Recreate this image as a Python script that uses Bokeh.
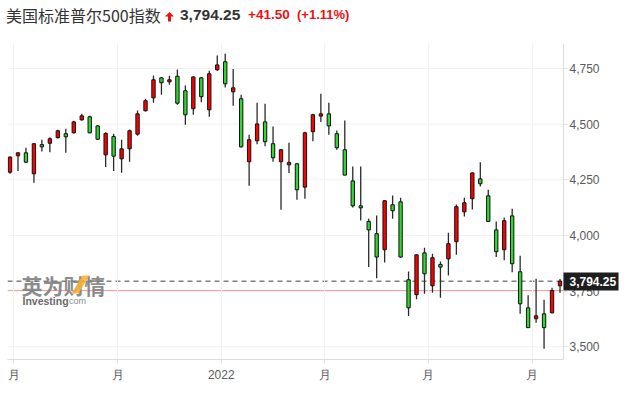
import numpy as np
from bokeh.plotting import figure
from bokeh.layouts import column
from bokeh.models import (ColumnDataSource, Range1d, FixedTicker, NumeralTickFormatter,
                          Label, PolyAnnotation, LinearAxis, Div)
from bokeh.embed import file_html
from bokeh.resources import INLINE

# ---------------- data ----------------
title_text = "美国标准普尔500指数"
last_price_text = "3,794.25"
change_text = "+41.50"
change_pct_text = "(+1.11%)"

opens = [4284, 4358, 4371, 4277, 4408, 4414, 4439, 4457, 4461, 4519,
         4533, 4492, 4362, 4444, 4344, 4389, 4455, 4560, 4618, 4708,
         4690, 4715, 4650, 4569, 4708, 4564, 4744, 4780, 4645, 4614,
         4331, 4425, 4510, 4412, 4331, 4317, 4322, 4217, 4466, 4536,
         4546, 4457, 4385, 4245, 4133, 4063, 4008, 3936, 4138, 4151,
         3801, 3734, 3922, 3774, 3870, 3895, 3972, 4106, 4165, 4254,
         4178, 4025, 3936, 4088, 3837, 3675, 3626, 3648, 3653, 3774]
highs = [4355, 4374, 4394, 4414, 4430, 4441, 4475, 4479, 4515, 4546,
         4537, 4495, 4464, 4457, 4430, 4476, 4561, 4614, 4718, 4712,
         4717, 4745, 4673, 4714, 4712, 4740, 4808, 4816, 4748, 4632,
         4452, 4596, 4591, 4489, 4388, 4416, 4325, 4466, 4546, 4636,
         4596, 4471, 4516, 4310, 4310, 4075, 4090, 4158, 4180, 4169,
         3838, 3915, 3945, 3918, 3883, 4012, 4139, 4169, 4283, 4329,
         4205, 4063, 4081, 4120, 3909, 3732, 3806, 3711, 3765, 3805]
lows = [4277, 4289, 4325, 4237, 4377, 4374, 4435, 4371, 4458, 4516,
        4459, 4430, 4307, 4289, 4282, 4331, 4448, 4557, 4596, 4632,
        4677, 4587, 4497, 4542, 4598, 4533, 4738, 4664, 4582, 4395,
        4223, 4410, 4401, 4331, 4115, 4281, 4160, 4165, 4423, 4510,
        4452, 4385, 4270, 4126, 4067, 3858, 3808, 3879, 4075, 3900,
        3638, 3714, 3738, 3743, 3720, 3820, 3913, 4085, 4117, 4220,
        4060, 3903, 3889, 3835, 3648, 3584, 3608, 3491, 3650, 3743]
closes = [4352, 4371, 4329, 4412, 4398, 4434, 4470, 4443, 4510, 4537,
          4461, 4432, 4458, 4356, 4389, 4470, 4546, 4605, 4699, 4686,
          4699, 4594, 4542, 4712, 4623, 4726, 4766, 4681, 4663, 4398,
          4430, 4501, 4421, 4349, 4385, 4328, 4205, 4461, 4542, 4546,
          4492, 4394, 4271, 4133, 4124, 4025, 3903, 4156, 4111, 3903,
          3675, 3913, 3828, 3900, 3858, 3963, 4129, 4147, 4281, 4232,
          4063, 3927, 4066, 3873, 3693, 3586, 3639, 3586, 3752.75, 3794.25]
last_price = 3794.25
prev_close = 3752.75

x_tick_pos = [0.5, 13.5, 26.5, 39.5, 52.5, 65.5]
x_tick_labels = ["月", "月", "2022", "月", "月", "月"]
y_ticks = [3500, 3750, 4000, 4250, 4500, 4750]

# ---------------- build ----------------
idx = list(range(len(opens)))
up = [c >= o for o, c in zip(opens, closes)]
src = ColumnDataSource(dict(
    x=idx, o=opens, h=highs, l=lows, c=closes,
    top=[max(o, c) for o, c in zip(opens, closes)],
    bottom=[min(o, c) for o, c in zip(opens, closes)],
    color=["#ff0000" if u else "#2fd82f" for u in up],
))

HEADER_H = 36
PX_PER_BAR = 7.971
X0 = -0.314                    # left edge of the plot area
X1 = X0 + 556 / PX_PER_BAR     # price-axis position (right edge of the candle area)
XR = X0 + 618 / PX_PER_BAR     # right edge of the drawing frame (room for axis labels)
Y0, Y1 = 3443, 4862

p = figure(width=625, height=397 - HEADER_H, output_backend="svg", toolbar_location=None,
           x_range=Range1d(X0, XR), y_range=Range1d(Y0, Y1),
           y_axis_location="right", min_border_left=7, min_border_right=0,
           min_border_top=7, min_border_bottom=38)
p.outline_line_color = None
p.background_fill_color = "white"
p.border_fill_color = "white"

# axes
p.xaxis.ticker = FixedTicker(ticks=x_tick_pos)
p.xaxis.major_label_overrides = {t: l for t, l in zip(x_tick_pos, x_tick_labels)}
p.xaxis.bounds = (X0, X1)
p.yaxis.ticker = FixedTicker(ticks=y_ticks)
p.yaxis.formatter = NumeralTickFormatter(format="0,0")
p.yaxis.fixed_location = X1
for ax in (p.xaxis, p.yaxis):
    ax.axis_line_color = "#dcdcdc"
    ax.major_tick_line_color = "#e2e2e2"
    ax.major_tick_out = 4
    ax.major_tick_in = 0
    ax.minor_tick_line_color = None
    ax.major_label_text_font = "Liberation Sans"
    ax.major_label_text_font_size = "12px"
    ax.major_label_text_color = "#5a5a5a"
p.yaxis.major_label_standoff = 2
p.xaxis.major_label_standoff = 4
p.xgrid.grid_line_color = "#f1f1f1"
p.ygrid.grid_line_color = None

# horizontal grid lines limited to the candle area
p.segment(x0=[X0] * len(y_ticks), x1=[X1] * len(y_ticks), y0=y_ticks, y1=y_ticks,
          line_color="#f1f1f1", line_width=1, level="underlay")

# previous close (solid pink) and current price (dashed grey)
p.segment(x0=[X0], x1=[X1], y0=[prev_close], y1=[prev_close],
          line_color="#ff9c9c", line_width=1, level="underlay")
p.segment(x0=[X0], x1=[X1], y0=[last_price], y1=[last_price],
          line_color="#808080", line_width=1.5, line_dash="5 4", level="underlay")

# candles
p.segment(x0="x", y0="l", x1="x", y1="h", source=src, line_color="#2a2a2a", line_width=1.3)
p.vbar(x="x", width=0.42, top="top", bottom="bottom", source=src,
       fill_color="color", line_color="#111111", line_width=1)

# current price tag on the right axis
price_axis = LinearAxis(fixed_location=X1, ticker=FixedTicker(ticks=[last_price]),
                        major_label_overrides={last_price: last_price_text})
price_axis.axis_line_color = None
price_axis.minor_tick_line_color = None
price_axis.major_tick_line_color = "#1e1e1e"
price_axis.major_tick_line_width = 18
price_axis.major_tick_line_cap = "butt"
price_axis.major_tick_out = 55
price_axis.major_tick_in = 0
price_axis.major_label_standoff = -49
price_axis.major_label_text_color = "white"
price_axis.major_label_text_font = "Liberation Sans"
price_axis.major_label_text_font_style = "bold"
price_axis.major_label_text_font_size = "12px"
p.add_layout(price_axis, "right")

# watermark (frame-relative screen coordinates; frame left = page x 7, bottom = page y 359)
def sy(page_y):
    return 359 - page_y
def sx(page_x):
    return page_x - 7

p.add_layout(Label(x=sx(21), y=sy(284), x_units="screen", y_units="screen", text="英为财情",
                   text_font="Noto Sans CJK SC", text_font_style="bold", text_font_size="21px",
                   text_color="#7c7c7c", text_alpha=0.9, text_baseline="middle"))
slash_x = [82, 89, 78, 71]
slash_y = [275, 275, 293, 293]
p.add_layout(PolyAnnotation(xs=[sx(v) for v in slash_x], ys=[sy(v) for v in slash_y],
                            xs_units="screen", ys_units="screen",
                            fill_color="#f5b335", fill_alpha=0.9, line_color=None))
p.add_layout(Label(x=sx(22), y=sy(300), x_units="screen", y_units="screen", text="Investing",
                   text_font="Liberation Sans", text_font_style="bold", text_font_size="10.5px",
                   text_color="#6a6a6a", text_baseline="middle"))
p.add_layout(Label(x=sx(66), y=sy(300.5), x_units="screen", y_units="screen", text=".com",
                   text_font="Liberation Sans", text_font_size="9px",
                   text_color="#8a8a8a", text_baseline="middle"))

# header
span_css = "position:absolute;top:5px;height:20px;line-height:20px;white-space:nowrap;"
header_html = (
    '<div style="position:relative;width:625px;height:%dpx;">' % HEADER_H
    + '<span style="%sleft:6px;font-family:\'Noto Sans CJK SC\';font-size:16px;color:#333333;">%s</span>'
    % (span_css, title_text)
    + '<svg style="position:absolute;left:165px;top:12px;" width="9" height="10">'
      '<polygon points="4.5,0 9,4.6 6,4.6 6,9.5 3,9.5 3,4.6 0,4.6" fill="#ee1111"/></svg>'
    + '<span style="%sleft:180px;font-family:\'Liberation Sans\';font-weight:bold;font-size:15.5px;color:#333333;">%s</span>'
    % (span_css, last_price_text)
    + '<span style="%sleft:248px;font-family:\'Liberation Sans\';font-weight:bold;font-size:13.5px;color:#ee1111;">%s</span>'
    % (span_css, change_text)
    + '<span style="%sleft:297px;font-family:\'Liberation Sans\';font-weight:bold;font-size:13px;color:#ee1111;">%s</span>'
    % (span_css, change_pct_text)
    + '</div>'
)
header = Div(text=header_html, width=625, height=HEADER_H, margin=(0, 0, 0, 0))

layout = column(header, p, spacing=0)
open("out.html", "w").write(file_html(layout, INLINE))
